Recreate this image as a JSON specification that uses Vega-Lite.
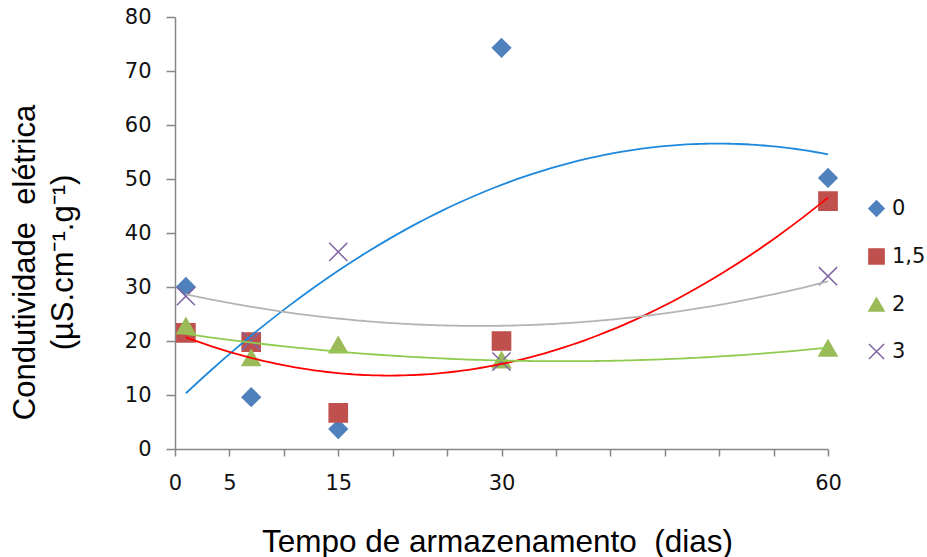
{
  "$schema": "https://vega.github.io/schema/vega-lite/v6.json",
  "width": 653,
  "height": 432,
  "autosize": {"type": "none"},
  "padding": {"left": 175, "top": 17, "right": 99, "bottom": 108},
  "background": "white",
  "config": {"view": {"stroke": null}},
  "data": {
    "values": [
      {"dias": 1, "ce": 30.0, "trat": "0"},
      {"dias": 7, "ce": 9.6, "trat": "0"},
      {"dias": 15, "ce": 3.7, "trat": "0"},
      {"dias": 30, "ce": 74.3, "trat": "0"},
      {"dias": 60, "ce": 50.2, "trat": "0"},
      {"dias": 1, "ce": 21.5, "trat": "1,5"},
      {"dias": 7, "ce": 19.8, "trat": "1,5"},
      {"dias": 15, "ce": 6.7, "trat": "1,5"},
      {"dias": 30, "ce": 20.0, "trat": "1,5"},
      {"dias": 60, "ce": 45.9, "trat": "1,5"},
      {"dias": 1, "ce": 22.8, "trat": "2"},
      {"dias": 7, "ce": 16.9, "trat": "2"},
      {"dias": 15, "ce": 19.3, "trat": "2"},
      {"dias": 30, "ce": 16.5, "trat": "2"},
      {"dias": 60, "ce": 18.7, "trat": "2"},
      {"dias": 1, "ce": 28.3, "trat": "3"},
      {"dias": 7, "ce": 20.0, "trat": "3"},
      {"dias": 15, "ce": 36.5, "trat": "3"},
      {"dias": 30, "ce": 16.2, "trat": "3"},
      {"dias": 60, "ce": 32.0, "trat": "3"}
    ]
  },
  "layer": [
    {
      "mark": {"type": "point", "filled": true, "size": 330, "strokeWidth": 1.5, "opacity": 1},
      "encoding": {
        "x": {"field": "dias", "type": "quantitative"},
        "y": {"field": "ce", "type": "quantitative"},
        "fill": {
          "field": "trat", "type": "nominal",
          "scale": {"domain": ["0", "1,5", "2", "3"], "range": ["#4F81BD", "#C0504D", "#9BBB59", "transparent"]},
          "legend": {
            "title": null, "orient": "none", "legendX": 691, "legendY": 181,
            "symbolSize": 230, "symbolStrokeWidth": 1.5, "labelFont": "DejaVu Sans", "labelFontSize": 21,
            "labelColor": "#111111", "rowPadding": 25, "labelOffset": 5
          }
        },
        "stroke": {
          "field": "trat", "type": "nominal",
          "scale": {"domain": ["0", "1,5", "2", "3"], "range": ["#4F81BD", "#C0504D", "#9BBB59", "#8064A2"]}
        },
        "shape": {
          "field": "trat", "type": "nominal",
          "scale": {"domain": ["0", "1,5", "2", "3"], "range": ["diamond", "square", "triangle-up", "M-1,-1L1,1M1,-1L-1,1"]}
        }
      }
    },
    {
      "transform": [
        {"regression": "ce", "on": "dias", "groupby": ["trat"], "method": "poly", "order": 2, "extent": [1, 60]}
      ],
      "mark": {"type": "line", "strokeWidth": 1.8, "interpolate": "monotone"},
      "encoding": {
        "x": {
          "field": "dias", "type": "quantitative",
          "scale": {"domain": [0, 60], "nice": false, "zero": false},
          "axis": {
            "title": "Tempo de armazenamento\u00a0 (dias)",
            "values": [0, 5, 10, 15, 20, 25, 30, 35, 40, 45, 50, 55, 60],
            "labelExpr": "indexof([0, 5, 15, 30, 60], datum.value) >= 0 ? datum.label : ''",
            "grid": false, "domainColor": "#868686", "tickColor": "#868686", "tickSize": 7, "domainWidth": 1.5, "tickWidth": 1.5,
            "labelFont": "DejaVu Sans", "labelFontSize": 21, "labelColor": "#111111", "labelPadding": 16,
            "labelFlush": false, "labelOverlap": false,
            "titleFont": "Liberation Sans", "titleFontSize": 31.5, "titleFontWeight": "normal", "titleColor": "#000000",
            "titleBaseline": "alphabetic", "titleAlign": "center", "titleX": 322, "titleY": 102
          }
        },
        "y": {
          "field": "ce", "type": "quantitative",
          "scale": {"domain": [0, 80], "nice": false},
          "axis": {
            "title": ["Condutividade\u00a0 elétrica", "(µS.cm⁻¹.g⁻¹)"],
            "values": [0, 10, 20, 30, 40, 50, 60, 70, 80],
            "grid": false, "domainColor": "#868686", "tickColor": "#868686", "tickSize": 9, "domainWidth": 1.5, "tickWidth": 1.5,
            "labelFont": "DejaVu Sans", "labelFontSize": 21, "labelColor": "#111111", "labelPadding": 15,
            "titleFont": "Liberation Sans", "titleFontSize": 31, "titleFontWeight": "normal", "titleColor": "#000000",
            "titleAngle": -90, "titleAlign": "center", "titleBaseline": "middle", "titleLineHeight": 38,
            "titleX": -150, "titleY": 245
          }
        },
        "color": {
          "field": "trat", "type": "nominal",
          "scale": {"domain": ["0", "1,5", "2", "3"], "range": ["#1E88DC", "#FF0000", "#8FCB4E", "#B4B4B4"]},
          "legend": null
        }
      }
    }
  ]
}
